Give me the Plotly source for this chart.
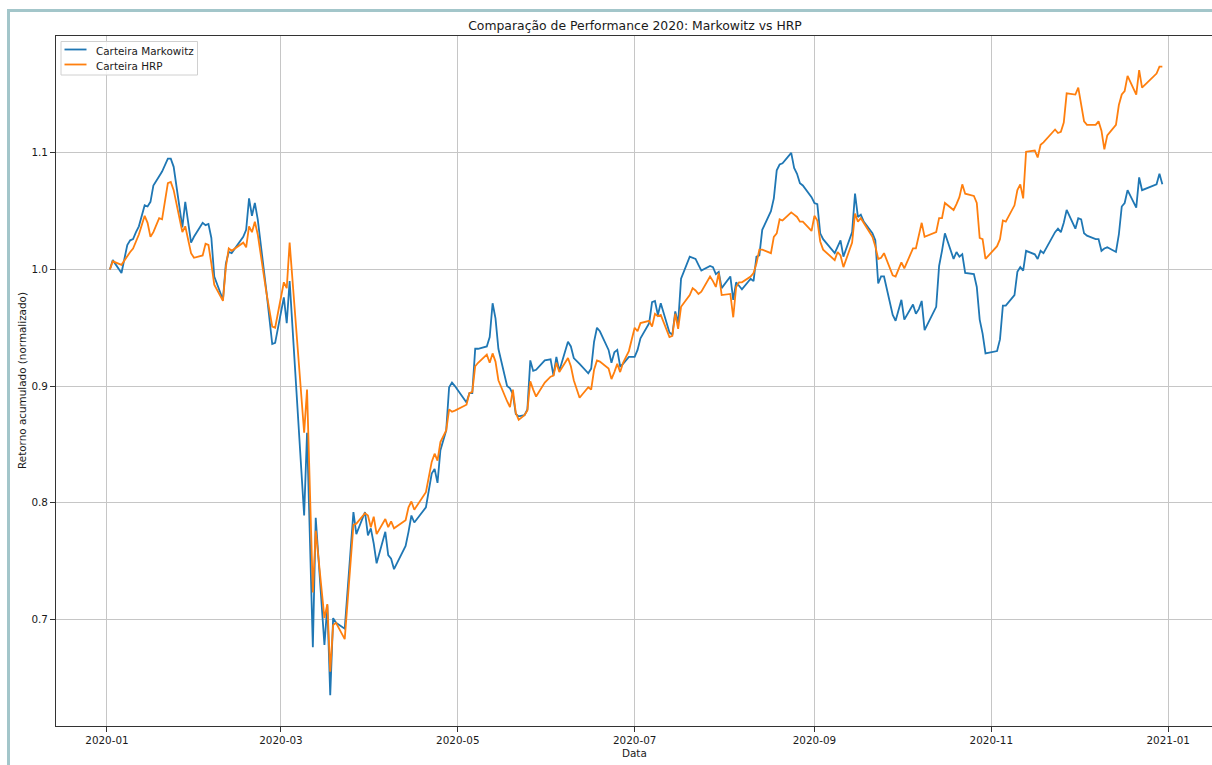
import plotly.graph_objects as go

dates = [
    "2020-01-02", "2020-01-03", "2020-01-06", "2020-01-08", "2020-01-09", "2020-01-10",
    "2020-01-11", "2020-01-12", "2020-01-14", "2020-01-15", "2020-01-16", "2020-01-17",
    "2020-01-19", "2020-01-20", "2020-01-22", "2020-01-23", "2020-01-24", "2020-01-27",
    "2020-01-28", "2020-01-30", "2020-01-31", "2020-02-03", "2020-02-04", "2020-02-05",
    "2020-02-06", "2020-02-07", "2020-02-10", "2020-02-11", "2020-02-12", "2020-02-13",
    "2020-02-17", "2020-02-18", "2020-02-19", "2020-02-20", "2020-02-21", "2020-02-22",
    "2020-02-25", "2020-02-27", "2020-02-28", "2020-03-02", "2020-03-03", "2020-03-04",
    "2020-03-09", "2020-03-10", "2020-03-12", "2020-03-13", "2020-03-16", "2020-03-17",
    "2020-03-18", "2020-03-19", "2020-03-20", "2020-03-23", "2020-03-26", "2020-03-27",
    "2020-03-30", "2020-03-31", "2020-04-01", "2020-04-02", "2020-04-03", "2020-04-06",
    "2020-04-07", "2020-04-08", "2020-04-09", "2020-04-13", "2020-04-14", "2020-04-15",
    "2020-04-16", "2020-04-20", "2020-04-22", "2020-04-23", "2020-04-24", "2020-04-25",
    "2020-04-27", "2020-04-28", "2020-04-29", "2020-04-30", "2020-05-04", "2020-05-05",
    "2020-05-06", "2020-05-07", "2020-05-08", "2020-05-11", "2020-05-12", "2020-05-13",
    "2020-05-14", "2020-05-15", "2020-05-18", "2020-05-19", "2020-05-20", "2020-05-21",
    "2020-05-22", "2020-05-24", "2020-05-25", "2020-05-26", "2020-05-27", "2020-05-28",
    "2020-05-31", "2020-06-02", "2020-06-03", "2020-06-04", "2020-06-05", "2020-06-08",
    "2020-06-09", "2020-06-10", "2020-06-12", "2020-06-15", "2020-06-16", "2020-06-17",
    "2020-06-18", "2020-06-19", "2020-06-22", "2020-06-23", "2020-06-24", "2020-06-25",
    "2020-06-26", "2020-06-27", "2020-06-29", "2020-07-01", "2020-07-02", "2020-07-03",
    "2020-07-06", "2020-07-07", "2020-07-08", "2020-07-09", "2020-07-10", "2020-07-13",
    "2020-07-14", "2020-07-15", "2020-07-16", "2020-07-17", "2020-07-20", "2020-07-21",
    "2020-07-22", "2020-07-23", "2020-07-24", "2020-07-27", "2020-07-28", "2020-07-29",
    "2020-07-30", "2020-07-31", "2020-08-03", "2020-08-04", "2020-08-05", "2020-08-06",
    "2020-08-07", "2020-08-10", "2020-08-11", "2020-08-12", "2020-08-13", "2020-08-14",
    "2020-08-17", "2020-08-18", "2020-08-19", "2020-08-20", "2020-08-21", "2020-08-24",
    "2020-08-25", "2020-08-26", "2020-08-27", "2020-08-28", "2020-08-31", "2020-09-01",
    "2020-09-02", "2020-09-03", "2020-09-04", "2020-09-08", "2020-09-09", "2020-09-10",
    "2020-09-11", "2020-09-14", "2020-09-15", "2020-09-16", "2020-09-17", "2020-09-18",
    "2020-09-21", "2020-09-22", "2020-09-23", "2020-09-24", "2020-09-25", "2020-09-28",
    "2020-09-29", "2020-09-30", "2020-10-01", "2020-10-02", "2020-10-05", "2020-10-06",
    "2020-10-07", "2020-10-08", "2020-10-09", "2020-10-13", "2020-10-14", "2020-10-15",
    "2020-10-16", "2020-10-19", "2020-10-20", "2020-10-21", "2020-10-22", "2020-10-23",
    "2020-10-26", "2020-10-27", "2020-10-28", "2020-10-29", "2020-10-30", "2020-11-03",
    "2020-11-04", "2020-11-05", "2020-11-06", "2020-11-09", "2020-11-10", "2020-11-11",
    "2020-11-12", "2020-11-13", "2020-11-16", "2020-11-17", "2020-11-18", "2020-11-19",
    "2020-11-23", "2020-11-24", "2020-11-25", "2020-11-26", "2020-11-27", "2020-11-30",
    "2020-12-01", "2020-12-02", "2020-12-03", "2020-12-04", "2020-12-07", "2020-12-08",
    "2020-12-09", "2020-12-10", "2020-12-11", "2020-12-14", "2020-12-15", "2020-12-16",
    "2020-12-17", "2020-12-18", "2020-12-21", "2020-12-22", "2020-12-23", "2020-12-28",
    "2020-12-29", "2020-12-30",
]

markowitz = [
    1.000, 1.008, 0.997, 1.021, 1.025, 1.026,
    1.032, 1.037, 1.055, 1.054, 1.058, 1.072,
    1.080, 1.084, 1.095, 1.095, 1.088, 1.036,
    1.058, 1.023, 1.028, 1.040, 1.038, 1.039,
    1.027, 0.994, 0.974, 1.005, 1.015, 1.014,
    1.028, 1.034, 1.061, 1.046, 1.057, 1.043,
    0.981, 0.936, 0.937, 0.976, 0.954, 0.990,
    0.789, 0.860, 0.676, 0.787, 0.678, 0.712,
    0.635, 0.701, 0.697, 0.692, 0.792, 0.773,
    0.792, 0.772, 0.778, 0.765, 0.748, 0.775,
    0.755, 0.752, 0.743, 0.763, 0.775, 0.789,
    0.783, 0.796, 0.825, 0.829, 0.817, 0.845,
    0.862, 0.899, 0.903, 0.900, 0.886, 0.894,
    0.894, 0.932, 0.932, 0.934, 0.942, 0.971,
    0.958, 0.932, 0.900, 0.898, 0.893, 0.876,
    0.874, 0.875, 0.880, 0.922, 0.913, 0.914,
    0.922, 0.923, 0.909, 0.925, 0.913, 0.938,
    0.934, 0.924, 0.919, 0.911, 0.915, 0.938,
    0.950, 0.947, 0.931, 0.920, 0.929, 0.931,
    0.917, 0.919, 0.925, 0.925, 0.931, 0.941,
    0.954, 0.972, 0.973, 0.961, 0.971, 0.946,
    0.944, 0.964, 0.954, 0.992, 1.011, 1.010,
    1.009, 1.004, 0.999, 1.003, 1.002, 0.996,
    0.998, 0.984, 0.994, 0.974, 0.989, 0.986,
    0.983, 0.992, 0.990, 1.011, 1.012, 1.034,
    1.050, 1.061, 1.085, 1.090, 1.091, 1.100,
    1.087, 1.082, 1.074, 1.072, 1.062, 1.057,
    1.056, 1.031, 1.026, 1.014, 1.019, 1.025,
    1.011, 1.032, 1.065, 1.045, 1.047, 1.041,
    1.031, 1.025, 0.988, 0.994, 0.994, 0.961,
    0.956, 0.966, 0.974, 0.957, 0.970, 0.962,
    0.966, 0.973, 0.948, 0.968, 1.003, 1.016,
    1.031, 1.009, 1.015, 1.011, 1.013, 0.997,
    0.996, 0.985, 0.957, 0.945, 0.928, 0.930,
    0.940, 0.969, 0.969, 0.978, 0.998, 1.002,
    0.999, 1.016, 1.013, 1.009, 1.016, 1.014,
    1.032, 1.035, 1.032, 1.040, 1.051, 1.035,
    1.044, 1.043, 1.031, 1.029, 1.026, 1.026,
    1.016, 1.018, 1.019, 1.015, 1.030, 1.054,
    1.057, 1.068, 1.053, 1.079, 1.068, 1.073,
    1.082, 1.073,
]

hrp = [
    1.000, 1.007, 1.004, 1.012, 1.015, 1.018,
    1.024, 1.030, 1.046, 1.040, 1.028, 1.032,
    1.044, 1.043, 1.074, 1.075, 1.068, 1.032,
    1.037, 1.014, 1.010, 1.012, 1.022, 1.021,
    1.005, 0.987, 0.973, 1.002, 1.018, 1.016,
    1.023, 1.019, 1.037, 1.032, 1.041, 1.030,
    0.980, 0.951, 0.950, 0.989, 0.984, 1.023,
    0.860, 0.897, 0.723, 0.776, 0.701, 0.713,
    0.655, 0.695, 0.697, 0.683, 0.781, 0.782,
    0.791, 0.789, 0.779, 0.788, 0.773, 0.786,
    0.779, 0.784, 0.778, 0.785, 0.796, 0.801,
    0.794, 0.809, 0.835, 0.842, 0.836, 0.852,
    0.862, 0.880, 0.878, 0.879, 0.884, 0.894,
    0.895, 0.917, 0.920, 0.927, 0.920, 0.928,
    0.921, 0.905, 0.887, 0.882, 0.897, 0.877,
    0.871, 0.875, 0.879, 0.904, 0.897, 0.891,
    0.903, 0.908, 0.909, 0.920, 0.912, 0.924,
    0.917, 0.905, 0.890, 0.899, 0.897, 0.914,
    0.922, 0.921, 0.915, 0.906, 0.912, 0.919,
    0.912, 0.920, 0.930, 0.950, 0.947, 0.954,
    0.956, 0.951, 0.962, 0.960, 0.961, 0.942,
    0.943, 0.962, 0.949, 0.968, 0.978, 0.984,
    0.982, 0.979, 0.981, 0.994, 0.990, 0.985,
    0.997, 0.978, 0.979, 0.959, 0.985, 0.989,
    0.989, 0.994, 0.997, 1.005, 1.017, 1.017,
    1.014, 1.028, 1.031, 1.043, 1.042, 1.049,
    1.047, 1.045, 1.041, 1.041, 1.033, 1.046,
    1.042, 1.024, 1.017, 1.008, 1.015, 1.012,
    1.002, 1.023, 1.048, 1.041, 1.044, 1.040,
    1.028, 1.020, 1.009, 1.010, 1.014, 0.995,
    0.994, 1.000, 1.006, 1.001, 1.018, 1.018,
    1.029, 1.040, 1.028, 1.032, 1.044, 1.044,
    1.057, 1.051, 1.056, 1.062, 1.073, 1.065,
    1.063, 1.057, 1.027, 1.026, 1.009, 1.020,
    1.026, 1.042, 1.041, 1.055, 1.068, 1.073,
    1.061, 1.101, 1.102, 1.096, 1.107, 1.109,
    1.120, 1.117, 1.118, 1.126, 1.151, 1.150,
    1.156, 1.140, 1.127, 1.124, 1.124, 1.127,
    1.119, 1.103, 1.115, 1.124, 1.141, 1.150,
    1.153, 1.166, 1.150, 1.171, 1.156, 1.168,
    1.174, 1.174,
]

series_names = ["Carteira Markowitz", "Carteira HRP"]
series_colors = ["#1f77b4", "#ff7f0e"]

x_ticks = ["2020-01-01", "2020-03-01", "2020-05-01", "2020-07-01",
           "2020-09-01", "2020-11-01", "2021-01-01"]
x_tick_labels = ["2020-01", "2020-03", "2020-05", "2020-07",
                 "2020-09", "2020-11", "2021-01"]
y_ticks = [0.7, 0.8, 0.9, 1.0, 1.1]
y_tick_labels = ["0.7", "0.8", "0.9", "1.0", "1.1"]

FONT = "DejaVu Sans, Liberation Sans, sans-serif"
TXT = "#1a1a1a"
FS = 10.4
W, H = 1212, 765
L, R, T, B = 56, 0, 36, 39
pw, ph = W - L - R, H - T - B


def px_x(p):
    return (p - L) / pw


def px_y(p):
    return (H - B - p) / ph


fig = go.Figure()
for name, color, vals in zip(series_names, series_colors, [markowitz, hrp]):
    fig.add_trace(go.Scatter(x=dates, y=vals, mode="lines", name=name,
                             line=dict(color=color, width=1.8)))

axis_common = dict(showgrid=True, gridcolor="#c6c6c6", gridwidth=1,
                   zeroline=False, showline=True, linecolor="#333333", linewidth=1,
                   ticks="outside", ticklen=5, tickwidth=1, tickcolor="#333333",
                   tickfont=dict(family=FONT, size=FS, color=TXT))

fig.update_xaxes(type="date", range=["2019-12-14 10:00", "2021-01-16 03:00"],
                 tickvals=x_ticks, ticktext=x_tick_labels, mirror=True, **axis_common)
fig.update_yaxes(range=[0.6085, 1.2002], tickvals=y_ticks, ticktext=y_tick_labels,
                 **axis_common)

shapes = [
    dict(type="rect", xref="paper", yref="paper",
         x0=px_x(7), x1=px_x(10), y0=px_y(765), y1=px_y(9),
         fillcolor="#a3c6ca", line=dict(width=0), layer="above"),
    dict(type="rect", xref="paper", yref="paper",
         x0=px_x(7), x1=px_x(1212), y0=px_y(12), y1=px_y(9),
         fillcolor="#a3c6ca", line=dict(width=0), layer="above"),
    dict(type="rect", xref="paper", yref="paper",
         x0=px_x(61), x1=px_x(197.5), y0=px_y(75), y1=px_y(41.5),
         fillcolor="rgba(255,255,255,0.85)", line=dict(color="#d0d0d0", width=1),
         layer="above"),
]
annotations = [
    dict(text="Data", x=px_x(634), y=px_y(752.5), xref="paper", yref="paper",
         showarrow=False, xanchor="center", yanchor="middle",
         font=dict(family=FONT, size=FS, color=TXT)),
    dict(text="Retorno acumulado (normalizado)", x=px_x(22), y=px_y(381),
         xref="paper", yref="paper", textangle=-90, showarrow=False,
         xanchor="center", yanchor="middle",
         font=dict(family=FONT, size=FS, color=TXT)),
]
for i, (name, color) in enumerate(zip(series_names, series_colors)):
    yy = 49.5 + 15 * i
    shapes.append(dict(type="line", xref="paper", yref="paper",
                       x0=px_x(64.5), x1=px_x(86.5), y0=px_y(yy), y1=px_y(yy),
                       line=dict(color=color, width=1.8), layer="above"))
    annotations.append(dict(text=name, x=px_x(94), y=px_y(yy + 1), xref="paper",
                            yref="paper", showarrow=False, xanchor="left",
                            yanchor="middle",
                            font=dict(family=FONT, size=FS, color=TXT)))

fig.update_layout(
    width=W, height=H,
    margin=dict(l=L, r=R, t=T, b=B, pad=0),
    paper_bgcolor="white", plot_bgcolor="white",
    font=dict(family=FONT, size=FS, color=TXT),
    title=dict(text="Comparação de Performance 2020: Markowitz vs HRP",
               x=px_x(635), xref="paper", xanchor="center",
               y=1 - 25.5 / H, yref="container", yanchor="middle",
               font=dict(family=FONT, size=12.4, color=TXT)),
    showlegend=False,
    annotations=annotations,
    shapes=shapes,
)

fig.write_html("out.html", config={"displayModeBar": False},
               post_script="document.body.style.margin='0';")
